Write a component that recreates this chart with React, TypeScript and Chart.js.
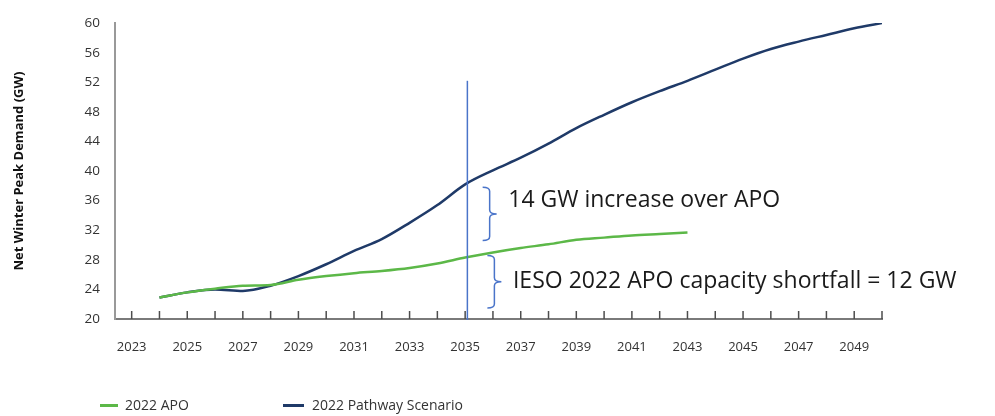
import React, { useEffect, useRef } from 'react';
import { Chart, registerables } from 'chart.js';

Chart.register(...registerables);

// ---- Data ----
const apoYears = [2024, 2025, 2026, 2027, 2028, 2029, 2030, 2031, 2032, 2033, 2034, 2035, 2036, 2037, 2038, 2039, 2040, 2041, 2042, 2043];
const apoValues = [22.9, 23.6, 24.1, 24.5, 24.6, 25.3, 25.8, 26.2, 26.5, 26.9, 27.5, 28.3, 29.0, 29.6, 30.1, 30.7, 31.0, 31.3, 31.5, 31.7];

const pathwayYears = [2024, 2025, 2026, 2027, 2028, 2029, 2030, 2031, 2032, 2033, 2034, 2035, 2036, 2037, 2038, 2039, 2040, 2041, 2042, 2043, 2044, 2045, 2046, 2047, 2048, 2049, 2050];
const pathwayValues = [22.9, 23.6, 24.0, 23.8, 24.5, 25.8, 27.4, 29.2, 30.8, 33.0, 35.4, 38.2, 40.1, 41.8, 43.7, 45.8, 47.6, 49.3, 50.8, 52.2, 53.7, 55.2, 56.5, 57.5, 58.4, 59.3, 60.0];

const xTickYears = [2023, 2024, 2025, 2026, 2027, 2028, 2029, 2030, 2031, 2032, 2033, 2034, 2035, 2036, 2037, 2038, 2039, 2040, 2041, 2042, 2043, 2044, 2045, 2046, 2047, 2048, 2049, 2050];
const xLabelYears = [2023, 2025, 2027, 2029, 2031, 2033, 2035, 2037, 2039, 2041, 2043, 2045, 2047, 2049];
const yTickValues = [20, 24, 28, 32, 36, 40, 44, 48, 52, 56, 60];

const seriesNames = ['2022 APO', '2022 Pathway Scenario'];
const seriesColors = ['#5cb848', '#1f3a68'];

const yAxisTitle = 'Net Winter Peak Demand (GW)';

// Annotations (in data units)
const markerYear = 2035.08;
const markerTop = 52.2;
const braceNotes = [
  { x: 2035.63, top: 37.8, bottom: 30.6, textX: 2036.55, textY: 36.05, text: '14 GW increase over APO' },
  { x: 2035.8, top: 28.6, bottom: 21.5, textX: 2036.72, textY: 25.1, text: 'IESO 2022 APO capacity shortfall = 12 GW' },
];
const annotationColor = '#4a74c9';

const FONT = '"Open Sans", "Noto Sans", sans-serif';

const inwardTicks = {
  id: 'inwardTicks',
  beforeDatasetsDraw(chart: any) {
    const { ctx, scales, chartArea } = chart;
    const x = scales.x;
    ctx.save();
    ctx.strokeStyle = '#4d4d4d';
    ctx.lineWidth = 1.5;
    for (const yr of xTickYears) {
      const px = x.getPixelForValue(yr);
      ctx.beginPath();
      ctx.moveTo(px, chartArea.bottom);
      ctx.lineTo(px, chartArea.bottom - 8);
      ctx.stroke();
    }
    ctx.restore();
  },
};

const annotations = {
  id: 'annotations',
  afterDatasetsDraw(chart: any) {
    const { ctx, scales } = chart;
    const x = scales.x;
    const y = scales.y;
    ctx.save();
    ctx.strokeStyle = annotationColor;
    ctx.lineWidth = 1.5;
    const mx = x.getPixelForValue(markerYear);
    ctx.beginPath();
    ctx.moveTo(mx, y.getPixelForValue(markerTop));
    ctx.lineTo(mx, y.getPixelForValue(20) + 1);
    ctx.stroke();

    for (const b of braceNotes) {
      const bx = x.getPixelForValue(b.x);
      const yt = y.getPixelForValue(b.top);
      const yb = y.getPixelForValue(b.bottom);
      const ym = (yt + yb) / 2;
      const w = 14;
      const r = 4;
      const xm = bx + w / 2;
      ctx.beginPath();
      ctx.moveTo(bx, yt);
      ctx.quadraticCurveTo(xm, yt, xm, yt + r);
      ctx.lineTo(xm, ym - r);
      ctx.quadraticCurveTo(xm, ym, bx + w, ym);
      ctx.quadraticCurveTo(xm, ym, xm, ym + r);
      ctx.lineTo(xm, yb - r);
      ctx.quadraticCurveTo(xm, yb, bx, yb);
      ctx.stroke();

      ctx.fillStyle = '#1a1a1a';
      ctx.font = `23px ${FONT}`;
      ctx.textAlign = 'left';
      ctx.textBaseline = 'middle';
      ctx.fillText(b.text, x.getPixelForValue(b.textX), y.getPixelForValue(b.textY));
    }
    ctx.restore();
  },
};

export default function App() {
  const canvasRef = useRef<HTMLCanvasElement | null>(null);

  useEffect(() => {
    document.body.style.margin = '0';
    const canvas = canvasRef.current;
    if (!canvas) return;
    const chart = new Chart(canvas, {
      type: 'line',
      data: {
        datasets: [
          {
            label: seriesNames[0],
            data: apoYears.map((yr, i) => ({ x: yr, y: apoValues[i] })),
            borderColor: seriesColors[0],
            backgroundColor: seriesColors[0],
            borderWidth: 2.5,
            pointRadius: 0,
            cubicInterpolationMode: 'monotone',
          },
          {
            label: seriesNames[1],
            data: pathwayYears.map((yr, i) => ({ x: yr, y: pathwayValues[i] })),
            borderColor: seriesColors[1],
            backgroundColor: seriesColors[1],
            borderWidth: 2.5,
            pointRadius: 0,
            cubicInterpolationMode: 'monotone',
          },
        ],
      },
      options: {
        animation: false,
        responsive: false,
        maintainAspectRatio: false,
        layout: { padding: { left: 0, right: 113, top: 20, bottom: 52 } },
        plugins: {
          legend: { display: false },
          tooltip: { enabled: false },
        },
        scales: {
          x: {
            type: 'linear',
            min: 2022.4,
            max: 2050,
            afterBuildTicks: (scale: any) => {
              scale.ticks = xTickYears.map((v) => ({ value: v }));
            },
            afterFit: (scale: any) => {
              scale.height = 45;
            },
            ticks: {
              autoSkip: false,
              maxRotation: 0,
              padding: 20,
              color: '#333333',
              font: { family: FONT, size: 13 },
              callback: (v: any) => (xLabelYears.includes(Number(v)) ? String(v) : ''),
            },
            grid: { display: true, drawOnChartArea: false, drawTicks: false },
            border: { display: true, color: '#7a7a7a', width: 2 },
          },
          y: {
            type: 'linear',
            min: 20,
            max: 60,
            afterBuildTicks: (scale: any) => {
              scale.ticks = yTickValues.map((v) => ({ value: v }));
            },
            afterFit: (scale: any) => {
              scale.width = 115;
            },
            ticks: {
              padding: 15,
              color: '#333333',
              font: { family: FONT, size: 13.5 },
            },
            grid: { display: true, drawOnChartArea: false, drawTicks: false },
            border: { display: true, color: '#999999', width: 2 },
            title: {
              display: true,
              text: yAxisTitle,
              color: '#111',
              font: { family: FONT, size: 13, weight: 'bold' },
              padding: { top: 11, bottom: 0 },
            },
          },
        },
      },
      plugins: [inwardTicks, annotations],
    } as any);
    return () => chart.destroy();
  }, []);

  return (
    <div style={{ position: 'relative', width: 995, height: 416, background: '#fff', fontFamily: FONT }}>
      <canvas ref={canvasRef} width={995} height={416} style={{ display: 'block' }} />
      <div style={{ position: 'absolute', left: 100, top: 404, width: 18, height: 3, background: seriesColors[0] }} />
      <div style={{ position: 'absolute', left: 125, top: 395, fontSize: 14, lineHeight: '20px', color: '#333' }}>{seriesNames[0]}</div>
      <div style={{ position: 'absolute', left: 283, top: 404, width: 21, height: 3, background: seriesColors[1] }} />
      <div style={{ position: 'absolute', left: 312, top: 395, fontSize: 14, lineHeight: '20px', color: '#333' }}>{seriesNames[1]}</div>
    </div>
  );
}
